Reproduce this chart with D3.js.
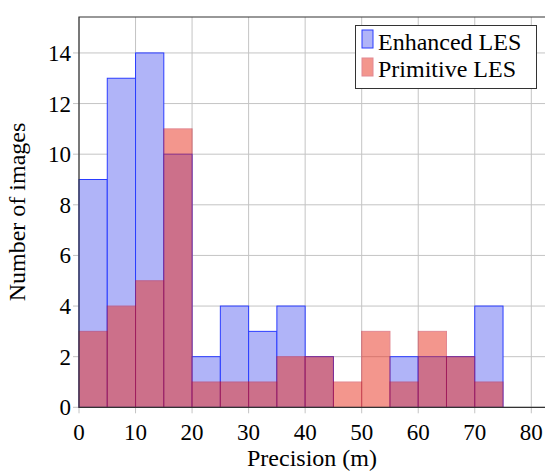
<!DOCTYPE html>
<html>
<head>
<meta charset="utf-8">
<script src="https://cdn.jsdelivr.net/npm/d3@7"></script>
<style>
  @font-face { font-family: "ChartSerif"; src: local("Liberation Serif"), local("LiberationSerif-Regular"), local("FreeSerif"); }
  svg text { font-family: "ChartSerif", "Times New Roman", "Liberation Serif", "FreeSerif", serif; }
</style>
</head>
<body style="margin:0">
<svg id="chart" width="545" height="475"></svg>
<script>
// histogram bins (lower edge, m) and counts
const binStart = [0, 5, 10, 15, 20, 25, 30, 35, 40, 45, 50, 55, 60, 65, 70];
const binWidth = 5;
const enhanced = [9, 13, 14, 10, 2, 4, 3, 4, 2, 0, 0, 2, 2, 2, 4];
const primitive = [3, 4, 5, 11, 1, 1, 1, 2, 2, 1, 3, 1, 3, 2, 1];
const seriesNames = ["Enhanced LES", "Primitive LES"];
const xTicks = [0, 10, 20, 30, 40, 50, 60, 70, 80];
const yTicks = [0, 2, 4, 6, 8, 10, 12, 14];

const plotL = 79, plotR = 546, plotT = 17, plotB = 407.3;
const fontList = '"Times New Roman", "Liberation Serif", "FreeSerif", serif';

let svg = d3.select('#chart');

let x = d3.scaleLinear().domain([0, 82.6]).range([plotL, plotR]);
let y = d3.scaleLinear().domain([0, 15.42]).range([plotB, plotT]);

// grid (with the little outward ticks)
svg.append('g').selectAll('line')
  .data(xTicks)
  .enter().append('line')
  .attr('x1', d => x(d)).attr('x2', d => x(d))
  .attr('y1', plotT).attr('y2', plotB + 6)
  .attr('stroke', '#c4c4c4').attr('stroke-width', 1);

svg.append('g').selectAll('line')
  .data(yTicks)
  .enter().append('line')
  .attr('x1', plotL - 6).attr('x2', plotR)
  .attr('y1', d => y(d)).attr('y2', d => y(d))
  .attr('stroke', '#c4c4c4').attr('stroke-width', 1);

function bars(values, fill, stroke, opacity) {
  svg.append('g').selectAll('rect')
    .data(binStart.map((b, i) => ({b: b, v: values[i]})).filter(d => d.v > 0))
    .enter().append('rect')
    .attr('x', d => x(d.b))
    .attr('width', d => x(d.b + binWidth) - x(d.b))
    .attr('y', d => y(d.v))
    .attr('height', d => y(0) - y(d.v))
    .attr('fill', fill)
    .attr('stroke', stroke)
    .attr('stroke-width', 1)
    .attr('opacity', opacity);
}

bars(enhanced, 'rgb(176,180,248)', '#2a3cff', 1);
bars(primitive, 'rgb(233,47,30)', 'rgb(200,20,40)', 0.5);

// axis frame (left, top, bottom)
svg.append('path')
  .attr('d', `M${plotR},${plotT}H${plotL}V${plotB}H${plotR}`)
  .attr('fill', 'none')
  .attr('stroke', '#333')
  .attr('stroke-width', 1.2);

// every label goes through here
function addText(parent, data, xf, yf, anchor, size, tf) {
  return parent.selectAll(null)
    .data(data)
    .enter().append('text')
    .attr('x', xf).attr('y', yf)
    .attr('transform', tf || null)
    .attr('text-anchor', anchor)
    .style('font-family', fontList)
    .style('font-size', size + 'px')
    .text(d => String(d));
}

// tick labels
addText(svg.append('g'), xTicks, d => x(d), 440, 'middle', 23);
addText(svg.append('g'), yTicks, 71, d => y(d) + 8, 'end', 23);

// axis titles
addText(svg, ['Precision (m)'], 312, 466, 'middle', 24);
addText(svg, ['Number of images'], 0, 0, 'middle', 24, 'translate(25,212) rotate(-90)');

// legend
let legend = svg.append('g');
legend.append('rect')
  .attr('x', 355.5).attr('y', 25.5)
  .attr('width', 181).attr('height', 63)
  .attr('fill', '#fff')
  .attr('stroke', '#333');

legend.append('rect')
  .attr('x', 362).attr('y', 30).attr('width', 11).attr('height', 18)
  .attr('fill', 'rgb(176,180,248)').attr('stroke', '#2a3cff');
legend.append('rect')
  .attr('x', 362).attr('y', 58).attr('width', 11).attr('height', 18)
  .attr('fill', 'rgb(233,47,30)').attr('stroke', 'rgb(200,20,40)')
  .attr('opacity', 0.5);

addText(legend, seriesNames, 378, (d, i) => 50 + i * 27, 'start', 24);
</script>
</body>
</html>
